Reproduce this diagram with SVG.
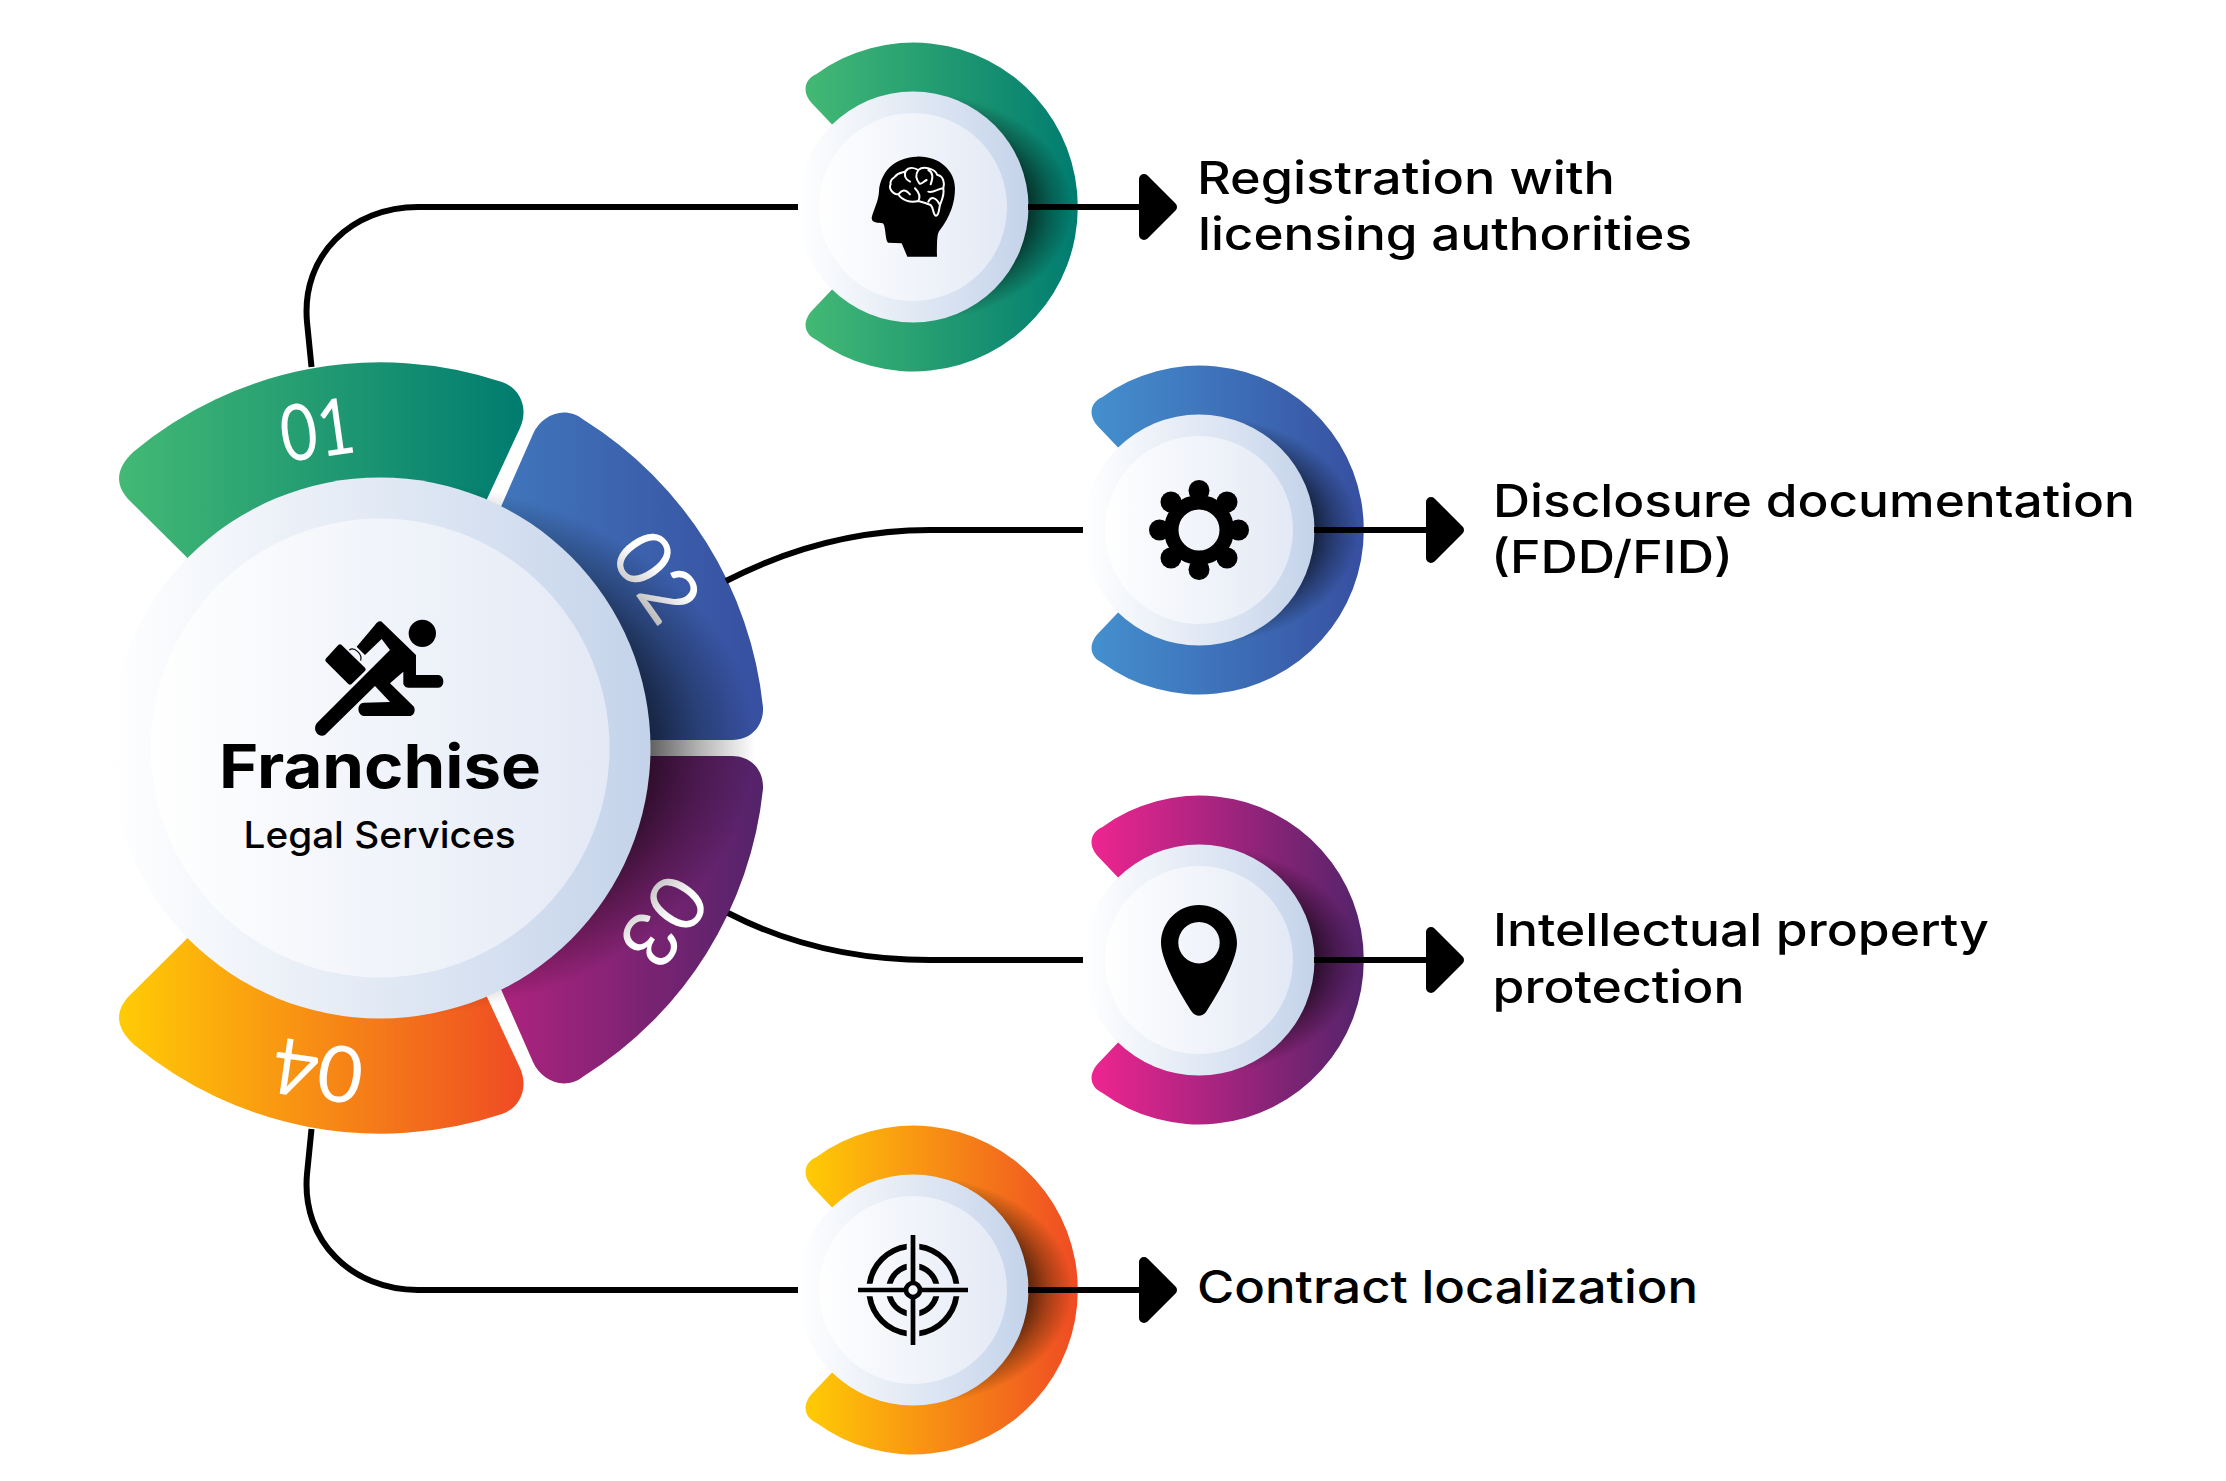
<svg xmlns="http://www.w3.org/2000/svg" width="2226" height="1481" viewBox="0 0 2226 1481">
<style>
.label{font-family:Inter,"Liberation Sans",sans-serif;font-weight:500;font-size:45px;fill:#000}
.num{font-family:Lato,"Liberation Sans",sans-serif;font-weight:400;font-size:78px;fill:#fff;text-anchor:middle}
.wire{fill:none;stroke:#000;stroke-width:6}
.brain{fill:none;stroke:#fff;stroke-width:6;stroke-linecap:round;stroke-linejoin:round}
</style>
<defs>
<linearGradient id="green"><stop offset="0" stop-color="#43b974"/><stop offset="1" stop-color="#007c70"/></linearGradient>
<linearGradient id="blue"><stop offset="0" stop-color="#4490cf"/><stop offset="1" stop-color="#374fa0"/></linearGradient>
<linearGradient id="mag"><stop offset="0" stop-color="#ee2590"/><stop offset="1" stop-color="#53236a"/></linearGradient>
<linearGradient id="orange"><stop offset="0" stop-color="#ffcb05"/><stop offset="1" stop-color="#ef4b24"/></linearGradient>
<linearGradient id="blue2"><stop offset="0" stop-color="#427cc0"/><stop offset="1" stop-color="#374fa0"/></linearGradient>
<linearGradient id="mag2"><stop offset="0" stop-color="#bb2381"/><stop offset="1" stop-color="#53236a"/></linearGradient>
<linearGradient id="outer"><stop offset="0" stop-color="#fff"/><stop offset="1" stop-color="#c4d3ea"/></linearGradient>
<linearGradient id="inner"><stop offset="0" stop-color="#fff"/><stop offset="1" stop-color="#e3e9f5"/></linearGradient>
<radialGradient id="shade"><stop offset="0.72" stop-color="#000" stop-opacity="0.62"/><stop offset="0.85" stop-color="#000" stop-opacity="0.3"/><stop offset="1" stop-color="#000" stop-opacity="0"/></radialGradient>
<clipPath id="rightHalf"><rect x="0" y="-400" width="500" height="800"/></clipPath>
<path id="cshape" transform="translate(1.500 0)" d="M-82 -82L-101 -102C-113 -114 -111 -127 -98 -133A164.500 164.500 0 1 1 -98 133C-111 127 -113 114 -101 102L-82 82L0 0Z"/>
<g id="disc">
<g clip-path="url(#rightHalf)"><ellipse rx="160" ry="115" fill="url(#shade)"/></g>
<circle r="115.500" fill="url(#outer)"/>
<circle r="94" fill="url(#inner)"/>
</g>
<path id="seg01" d="M240 610L130 501C113 484 117 467 133.500 451.700A386 386 0 0 1 502 382C520 388 529 408 520 428L440 600Z"/>
<path id="seg02" d="M460 600L533 434C541 416 564 404 584 420A386 386 0 0 1 763 707C764 725 752 740 732 740L500 740Z"/>
<path id="quad" d="M6.300 -46.300A46.700 46.700 0 0 1 46.300 -6.300L40.500 -6.300A41 41 0 0 0 6.300 -40.500ZM6.300 -26.250A27 27 0 0 1 26.250 -6.300L20.350 -6.300A21.300 21.300 0 0 0 6.300 -20.350Z"/>
<marker id="arrow" markerUnits="userSpaceOnUse" markerWidth="50" markerHeight="80" refX="2" refY="40" orient="auto"><path d="M5 12L33 40L5 68Z" fill="#000" stroke="#000" stroke-width="10" stroke-linejoin="round"/></marker>
</defs>

<g id="node-1" transform="translate(913 207)">
<use href="#cshape" fill="url(#green)"/>
<use href="#disc"/>
<g transform="translate(-53 -62) scale(.3333)">
<path d="M170 35C235 32 285 75 285 130C285 175 270 215 240 255C232 265 231 275 231 335L142 335L125 295L85 293C75 290 78 240 68 235C55 232 35 235 35 218C42 190 55 170 57 140C60 85 100 37 170 35Z"/>
<path class="brain" d="M105 95C115 80 130 85 137 78C150 62 170 72 175 75C190 62 225 70 232 90C250 92 255 115 250 130C254 150 245 165 240 180C236 195 238 210 228 212C218 210 222 190 212 180C200 175 190 172 175 168C150 175 125 165 115 148C98 148 85 130 92 118C88 105 100 100 105 95ZM137 78C130 95 140 105 150 110M175 75C165 90 170 105 178 115C185 120 190 110 200 105M205 75C225 85 215 110 212 118M115 148C125 135 135 130 150 148M175 168C185 150 170 135 165 130M250 130C235 130 220 145 205 140M240 180C230 160 215 150 205 170"/>
</g>
</g>

<g id="node-2" transform="translate(1199 530)">
<use href="#cshape" fill="url(#blue)"/>
<use href="#disc"/>
<circle r="27.750" fill="none" stroke="#000" stroke-width="14.500"/>
<g fill="#000">
<circle cy="-39.500" r="10.500"/><circle cy="39.500" r="10.500"/><circle cx="-39.500" r="10.500"/><circle cx="39.500" r="10.500"/>
<circle cx="-28" cy="-28" r="10.500"/><circle cx="28" cy="-28" r="10.500"/><circle cx="-28" cy="28" r="10.500"/><circle cx="28" cy="28" r="10.500"/>
</g>
</g>

<g id="node-3" transform="translate(1199 960)">
<use href="#cshape" fill="url(#mag)"/>
<use href="#disc"/>
<path fill="#000" fill-rule="evenodd" d="M0 -55C21 -55 38 -38 38 -17C38 2 15 40 7 52C3 57 -3 57 -7 52C-15 40 -38 2 -38 -17C-38 -38 -21 -55 0 -55ZM0 -38A20.700 20.700 0 1 0 0 3.400A20.700 20.700 0 1 0 0 -38Z"/>
</g>

<g id="node-4" transform="translate(913 1290)">
<use href="#cshape" fill="url(#orange)"/>
<use href="#disc"/>
<use href="#quad"/><use href="#quad" transform="rotate(90)"/><use href="#quad" transform="rotate(180)"/><use href="#quad" transform="rotate(270)"/>
<circle r="7" fill="none" stroke="#000" stroke-width="4.700"/>
<path d="M-55 0H-8M8 0H55M0 -55V-8M0 8V55" stroke="#000" stroke-width="4.700" fill="none"/>
</g>

<g id="segment-01">
<use href="#seg01" fill="url(#green)"/>
<text class="num" transform="translate(321 457) rotate(-8)" textLength="74" lengthAdjust="spacingAndGlyphs">01</text>
</g>
<g id="segment-02">
<use href="#seg02" fill="url(#blue2)"/>
<text class="num" transform="translate(656 577) rotate(55) translate(0 27)">02</text>
</g>
<g id="segment-03">
<use href="#seg02" transform="matrix(1 0 0 -1 0 1496)" fill="url(#mag2)"/>
<text class="num" transform="translate(663 921) rotate(126) translate(0 27)">03</text>
</g>
<g id="segment-04">
<use href="#seg01" transform="matrix(1 0 0 -1 0 1496)" fill="url(#orange)"/>
<text class="num" transform="translate(318 1070) rotate(188) translate(0 27)">04</text>
</g>

<g id="node-center">
<g clip-path="url(#rightHalf)" transform="translate(380 748)"><ellipse rx="375" ry="270" fill="url(#shade)"/></g>
<circle cx="380" cy="748" r="270.500" fill="url(#outer)"/>
<circle cx="380" cy="748" r="229.500" fill="url(#inner)"/>
<g transform="translate(290 600) scale(.3333)">
<circle cx="397" cy="100" r="41"/>
<path d="M275 65L378 165L378 225L445 225C465 227 465 263 445 263L355 263C345 263 340 255 340 250L340 215L300 250L372 320C378 335 370 348 358 348L222 348C200 345 200 308 222 308L300 306L255 258L105 405C88 415 65 392 80 370L300 150L275 117L225 165L200 140L255 75C262 65 268 62 275 65Z"/>
<path d="M150 140L113 180L180 247L220 208Z" stroke="#000" stroke-width="14" stroke-linejoin="round"/>
<path d="M178 150C192 140 218 160 212 182" fill="none" stroke="#000" stroke-width="3.500"/>
</g>
<text x="219" y="788" font-family="Inter, 'Liberation Sans', sans-serif" font-weight="700" font-size="61" textLength="322" lengthAdjust="spacingAndGlyphs">Franchise</text>
<text x="243.500" y="848" font-family="Inter, 'Liberation Sans', sans-serif" font-weight="500" font-size="37" textLength="272" lengthAdjust="spacingAndGlyphs">Legal Services</text>
</g>

<g id="connectors">
<path class="wire" d="M311.500 367L307 322C301 255 352 207 418 207L798 207"/>
<path class="wire" d="M726 581C790 548 860 530 930 530L1083 530"/>
<path class="wire" d="M728 913C790 945 860 960 930 960L1083 960"/>
<path class="wire" d="M311.500 1129L307 1174C301 1241 352 1290 418 1290L798 1290"/>
<path class="wire" d="M1028 207H1141" marker-end="url(#arrow)"/>
<path class="wire" d="M1314 530H1428" marker-end="url(#arrow)"/>
<path class="wire" d="M1314 960H1428" marker-end="url(#arrow)"/>
<path class="wire" d="M1028 1290H1141" marker-end="url(#arrow)"/>
</g>

<g id="labels">
<text class="label" x="1197" y="194.300" textLength="418" lengthAdjust="spacingAndGlyphs">Registration with</text>
<text class="label" x="1198" y="250" textLength="494" lengthAdjust="spacingAndGlyphs">licensing authorities</text>
<text class="label" x="1493" y="516.700" textLength="642" lengthAdjust="spacingAndGlyphs">Disclosure documentation</text>
<text class="label" x="1491" y="573" textLength="242" lengthAdjust="spacingAndGlyphs">(FDD/FID)</text>
<text class="label" x="1493" y="946" textLength="496" lengthAdjust="spacingAndGlyphs">Intellectual property</text>
<text class="label" x="1492.500" y="1003" textLength="252" lengthAdjust="spacingAndGlyphs">protection</text>
<text class="label" x="1197" y="1303" textLength="501" lengthAdjust="spacingAndGlyphs">Contract localization</text>
</g>
</svg>
